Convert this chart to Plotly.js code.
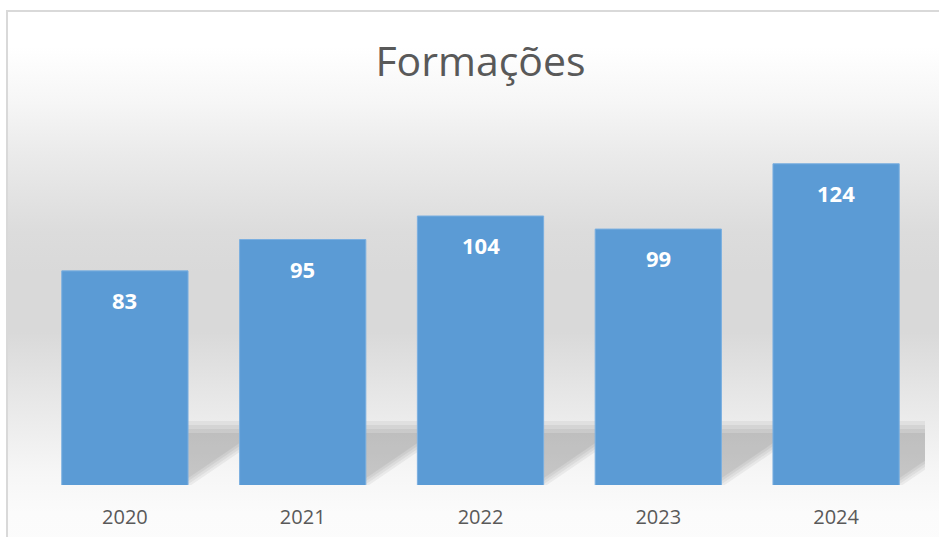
<!DOCTYPE html>
<html>
<head>
<meta charset="utf-8">
<script src="https://cdn.plot.ly/plotly-3.0.1.min.js"></script>
<style>
  html, body { margin: 0; padding: 0; background: #ffffff; overflow: hidden; }
  #frame {
    position: absolute; left: 6px; top: 10px; width: 1000px; height: 600px;
    border: 2px solid #d9d9d9;
    background: linear-gradient(to bottom,
      #ffffff 0px, #ffffff 35px, #f6f6f6 90px, #ebebeb 140px,
      #dcdcdc 220px, #d9d9d9 260px, #d9d9d9 320px, #e6e6e6 380px,
      #eeeeee 420px, #f6f6f6 460px, #fbfbfb 500px, #fdfdfd 600px);
  }
  #chart { position: absolute; left: 0; top: 0; width: 939px; height: 537px; }
</style>
</head>
<body>
<div id="frame"></div>
<div id="chart"></div>
<script>
const categories = ['2020', '2021', '2022', '2023', '2024'];
const values = [83, 95, 104, 99, 124];
const chartTitle = 'Formações';

const barColor = '#5B9BD5';
const textGray = '#595959';

// soft floor shadows beside each bar (pixel offsets from bar centre / plot bottom)
const shadowLayers = [
  {top: 64, b0: -3, op: 0.05},
  {top: 60, b0: 0, op: 0.05},
  {top: 56, b0: 3, op: 0.05},
  {top: 52, b0: 6, op: 0.055}
];
const slope = 0.68;
const shapes = [];
categories.forEach(function (c, i) {
  shadowLayers.forEach(function (s) {
    const xl = 62, xr = 120;
    let path;
    if (s.b0 >= 0) {
      path = 'M' + xl + ',' + s.b0;
    } else {
      path = 'M' + xl + ',0 L' + (xl - s.b0 / slope) + ',0';
    }
    const yr = s.b0 + (xr - xl) * slope;
    path = (s.b0 >= 0 ? path : path) ;
    let full = (s.b0 >= 0)
      ? 'M' + xl + ',' + s.b0 + ' L' + xr + ',' + yr + ' L' + xr + ',' + s.top + ' L' + xl + ',' + s.top + ' Z'
      : 'M' + xl + ',0 L' + (xl - s.b0 / slope) + ',0 L' + xr + ',' + yr + ' L' + xr + ',' + s.top + ' L' + xl + ',' + s.top + ' Z';
    shapes.push({
      type: 'path', layer: 'below',
      xref: 'x', yref: 'paper',
      xsizemode: 'pixel', ysizemode: 'pixel',
      xanchor: i, yanchor: 0,
      path: full,
      fillcolor: '#000000',
      opacity: s.op,
      line: {width: 0}
    });
  });
});

const annotations = categories.map(function (c, i) {
  return {
    x: i, y: values[i], xref: 'x', yref: 'y',
    text: String(values[i]), showarrow: false,
    yshift: -29, yanchor: 'middle',
    font: {family: 'Open Sans, sans-serif', size: 22, color: '#ffffff', weight: 'bold'}
  };
});

const data = [{
  type: 'bar',
  x: categories,
  y: values,
  marker: {color: barColor, line: {width: 1, color: '#7aafe0'}},
  hoverinfo: 'skip'
}];

const layout = {
  width: 939, height: 537,
  margin: {l: 36, r: 14, t: 122, b: 52},
  paper_bgcolor: 'rgba(0,0,0,0)',
  plot_bgcolor: 'rgba(0,0,0,0)',
  bargap: 0.29,
  showlegend: false,
  title: {
    text: chartTitle,
    x: 0.5, xref: 'paper', xanchor: 'center',
    y: 1 - 62 / 537, yref: 'container', yanchor: 'middle',
    font: {family: 'Open Sans, sans-serif', size: 41, color: textGray}
  },
  xaxis: {
    type: 'category',
    range: [-0.5, categories.length - 0.5],
    autorange: false,
    showgrid: false, zeroline: false, showline: false, ticks: '',
    ticklabelstandoff: 18,
    tickfont: {family: 'Open Sans, sans-serif', size: 20, color: textGray}
  },
  yaxis: {
    range: [1, 140],
    autorange: false,
    showgrid: false, zeroline: false, showline: false, showticklabels: false, ticks: ''
  },
  shapes: shapes,
  annotations: annotations
};

Plotly.newPlot('chart', data, layout, {displayModeBar: false, staticPlot: true});
</script>
</body>
</html>
